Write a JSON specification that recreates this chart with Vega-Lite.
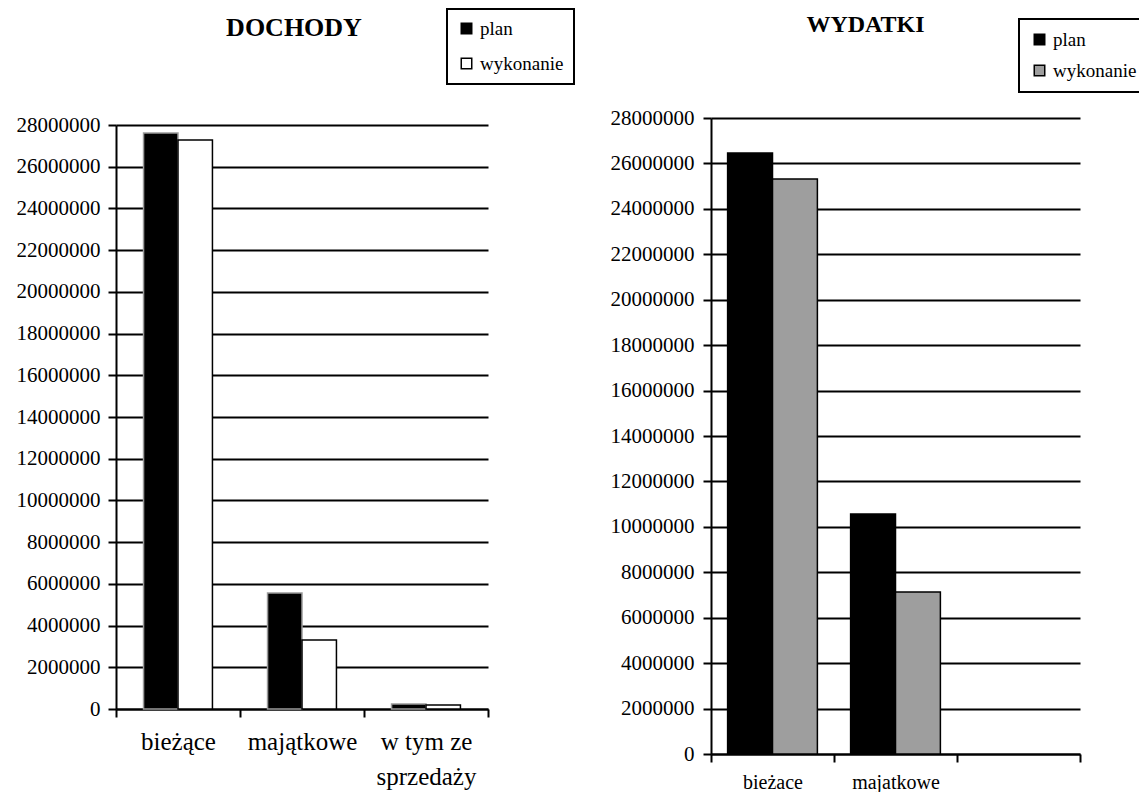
{
  "$schema": "https://vega.github.io/schema/vega-lite/v6.json",
  "autosize": {"type": "pad"},
  "padding": {"left": 16, "top": 8, "right": 0, "bottom": 0},
  "background": "white",
  "config": {
    "font": "Liberation Serif",
    "view": {"stroke": null},
    "axis": {
      "labelFont": "Liberation Serif",
      "labelColor": "black",
      "domainColor": "black",
      "domainWidth": 2,
      "tickColor": "black",
      "tickWidth": 2,
      "tickSize": 8,
      "gridColor": "black",
      "gridWidth": 2,
      "gridOpacity": 1,
      "title": null
    },
    "legend": {
      "labelFont": "Liberation Serif",
      "labelColor": "black",
      "orient": "none",
      "strokeColor": "black",
      "fillColor": "white",
      "symbolType": "square",
      "symbolSize": 110,
      "symbolStrokeColor": "black",
      "symbolStrokeWidth": 1.5,
      "labelOffset": 4,
      "padding": 10
    }
  },
  "datasets": {
    "dochody": [
      {"kategoria": "bieżące", "seria": "plan", "wartosc": 27620000},
      {"kategoria": "bieżące", "seria": "wykonanie", "wartosc": 27280000},
      {"kategoria": "majątkowe", "seria": "plan", "wartosc": 5560000},
      {"kategoria": "majątkowe", "seria": "wykonanie", "wartosc": 3310000},
      {"kategoria": "w tym ze sprzedaży", "seria": "plan", "wartosc": 240000},
      {"kategoria": "w tym ze sprzedaży", "seria": "wykonanie", "wartosc": 190000}
    ],
    "wydatki": [
      {"kategoria": "bieżace", "seria": "plan", "wartosc": 26460000},
      {"kategoria": "bieżace", "seria": "wykonanie", "wartosc": 25310000},
      {"kategoria": "majatkowe", "seria": "plan", "wartosc": 10570000},
      {"kategoria": "majatkowe", "seria": "wykonanie", "wartosc": 7130000}
    ]
  },
  "bounds": "flush",
  "spacing": 223,
  "resolve": {
    "scale": {"color": "independent", "y": "independent", "x": "independent", "xOffset": "independent"},
    "legend": {"color": "independent"}
  },
  "hconcat": [
    {
      "data": {"name": "dochody"},
      "width": 372,
      "height": 591,
      "title": {
        "text": "DOCHODY",
        "font": "Liberation Serif",
        "fontSize": 26,
        "fontWeight": "bold",
        "color": "black",
        "anchor": "middle",
        "frame": "group",
        "baseline": "alphabetic",
        "offset": -54,
        "dx": -8
      },
      "mark": {"type": "bar", "strokeWidth": 1.5},
      "encoding": {
        "x": {
          "field": "kategoria",
          "type": "nominal",
          "sort": null,
          "scale": {"paddingInner": 0, "paddingOuter": 0},
          "axis": {
            "labelAngle": 0,
            "tickBand": "extent",
            "labelFont": "Liberation Serif",
            "labelFontSize": 25,
            "labelPadding": 12,
            "labelLineHeight": 35,
            "labelOverlap": false,
            "labelLimit": 200,
            "grid": false,
            "labelExpr": "datum.value == 'w tym ze sprzedaży' ? ['w tym ze', 'sprzedaży'] : datum.value"
          }
        },
        "xOffset": {
          "field": "seria",
          "type": "nominal",
          "sort": ["plan", "wykonanie"],
          "scale": {"paddingOuter": 0.8, "paddingInner": 0}
        },
        "y": {
          "field": "wartosc",
          "type": "quantitative",
          "scale": {"domain": [0, 28000000], "nice": false, "range": [591, 7]},
          "axis": {
            "values": [0, 2000000, 4000000, 6000000, 8000000, 10000000, 12000000, 14000000, 16000000, 18000000, 20000000, 22000000, 24000000, 26000000, 28000000],
            "format": "d",
            "labelFontSize": 21,
            "labelPadding": 8,
            "grid": true
          }
        },
        "color": {
          "field": "seria",
          "type": "nominal",
          "scale": {"domain": ["plan", "wykonanie"], "range": ["#000000", "#ffffff"]},
          "legend": {
            "title": null,
            "legendX": 331,
            "legendY": -109,
            "labelFontSize": 19,
            "rowPadding": 15,
            "encode": {"legend": {"update": {"strokeWidth": {"value": 2}}}}
          }
        },
        "stroke": {
          "condition": {"test": "datum.seria == 'plan'", "value": "#9a9a9a"},
          "value": "#000000"
        }
      }
    },
    {
      "data": {"name": "wydatki"},
      "width": 369,
      "height": 636,
      "title": {
        "text": "WYDATKI",
        "font": "Liberation Serif",
        "fontSize": 24,
        "fontWeight": "bold",
        "color": "black",
        "anchor": "middle",
        "frame": "group",
        "baseline": "alphabetic",
        "offset": -38,
        "dx": -30
      },
      "mark": {"type": "bar", "strokeWidth": 1.5, "stroke": "black"},
      "encoding": {
        "x": {
          "field": "kategoria",
          "type": "nominal",
          "sort": null,
          "scale": {"domain": ["bieżace", "majatkowe", "-"], "paddingInner": 0, "paddingOuter": 0},
          "axis": {
            "labelAngle": 0,
            "tickBand": "extent",
            "labelFont": "Liberation Serif",
            "labelFontSize": 20,
            "labelPadding": 10,
            "labelOverlap": false,
            "grid": false,
            "labelExpr": "datum.value == '-' ? '' : datum.value"
          }
        },
        "xOffset": {
          "field": "seria",
          "type": "nominal",
          "sort": ["plan", "wykonanie"],
          "scale": {"paddingOuter": 0.37, "paddingInner": 0}
        },
        "y": {
          "field": "wartosc",
          "type": "quantitative",
          "scale": {"domain": [0, 28000000], "nice": false},
          "axis": {
            "values": [0, 2000000, 4000000, 6000000, 8000000, 10000000, 12000000, 14000000, 16000000, 18000000, 20000000, 22000000, 24000000, 26000000, 28000000],
            "format": "d",
            "labelFontSize": 21,
            "labelPadding": 9,
            "grid": true
          }
        },
        "color": {
          "field": "seria",
          "type": "nominal",
          "scale": {"domain": ["plan", "wykonanie"], "range": ["#000000", "#9e9e9e"]},
          "legend": {
            "title": null,
            "legendX": 308,
            "legendY": -99,
            "labelFontSize": 19,
            "rowPadding": 11,
            "padding": 11,
            "encode": {"legend": {"update": {"strokeWidth": {"value": 2}}}}
          }
        }
      }
    }
  ]
}
